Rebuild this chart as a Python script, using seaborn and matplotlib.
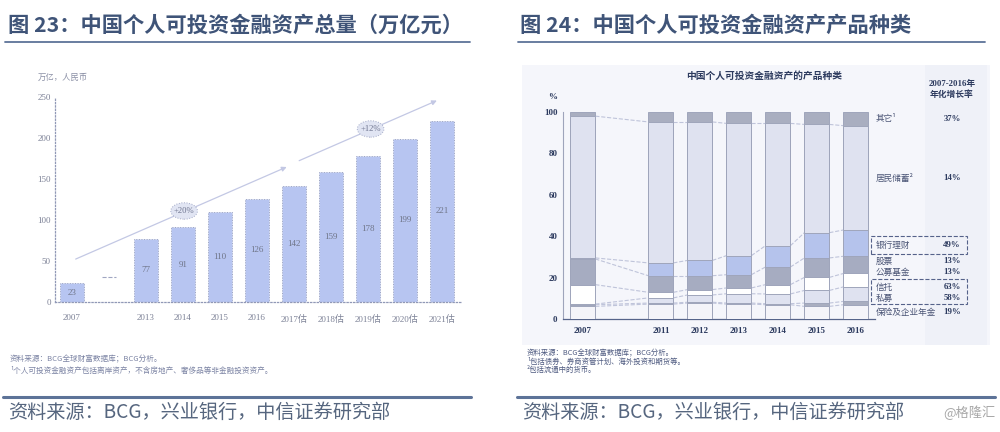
import numpy as np
import pandas as pd
import matplotlib
matplotlib.use("Agg")
import matplotlib.pyplot as plt
from matplotlib.patches import Ellipse, Rectangle
from matplotlib.lines import Line2D
import seaborn as sns

# ---------------- data: 图23 ----------------
slot_order_23 = ["2007", " ", "2013", "2014", "2015", "2016", "2017估", "2018估", "2019估", "2020估", "2021估"]
bar_years = ["2007", "2013", "2014", "2015", "2016", "2017估", "2018估", "2019估", "2020估", "2021估"]
bar_values = [23, 77, 91, 110, 126, 142, 159, 178, 199, 221]
growth_labels = ["+20%", "+12%"]

# ---------------- data: 图24 ----------------
slot_order_24 = ["2007", " ", "2011", "2012", "2013", "2014", "2015", "2016"]
years_mix = ["2007", "2011", "2012", "2013", "2014", "2015", "2016"]
insurance = [6.1, 7.2, 7.7, 7.2, 6.9, 6.1, 6.9]
private_fund = [0.8, 0.5, 0.4, 0.5, 0.5, 1.6, 1.6]
trust = [0.3, 2.5, 3.5, 4.5, 4.7, 6.1, 7.0]
mutual_fund = [9.4, 2.7, 2.6, 2.8, 4.5, 6.3, 6.5]
stocks = [12.4, 8.0, 6.7, 6.4, 8.5, 9.4, 8.3]
wealth_mgmt = [0.5, 6.2, 7.4, 9.2, 10.3, 12.2, 12.7]
deposits = [68.5, 68.1, 66.9, 63.9, 59.1, 52.3, 50.4]
others = [2.0, 4.8, 4.8, 5.5, 5.5, 6.0, 6.6]
segment_names = ["保险及企业年金", "私募", "信托", "公募基金", "股票", "银行理财", "居民储蓄²", "其它¹"]
growth_rates = ["19%", "58%", "63%", "13%", "13%", "49%", "14%", "37%"]

# ---------------- style ----------------
sns.set_theme(style="white")
plt.rcParams["font.family"] = ["Noto Sans CJK SC", "DejaVu Sans"]
SERIF = ["Liberation Serif", "Noto Sans CJK SC"]

TITLE_C = "#3f5478"
LINE_C = "#5d7398"
FOOT_C = "#56667f"
NAVY = "#2d3b5f"

fig = plt.figure(figsize=(10, 4.32), dpi=100)
fig.patch.set_facecolor("white")


def fx(p):
    return p / 1000.0


def fy(p):
    return 1 - p / 432.0


# ---------- headers / footers ----------
fig.text(fx(8), fy(25), "图 23：中国个人可投资金融资产总量（万亿元）", fontsize=15.3,
         color=TITLE_C, va="center", ha="left", fontweight="bold")
fig.text(fx(520), fy(25), "图 24：中国个人可投资金融资产产品种类", fontsize=15.3,
         color=TITLE_C, va="center", ha="left", fontweight="bold")
for x0, x1 in [(5, 470), (518, 985)]:
    fig.add_artist(Line2D([fx(x0), fx(x1)], [fy(42), fy(42)], color=LINE_C, lw=1.3,
                          transform=fig.transFigure))
for x0, x1 in [(3, 471), (517, 995)]:
    fig.add_artist(Line2D([fx(x0), fx(x1)], [fy(397), fy(397)], color=LINE_C, lw=2.2,
                          transform=fig.transFigure))
fig.text(fx(8), fy(412), "资料来源：BCG，兴业银行，中信证券研究部", fontsize=13.8,
         color=FOOT_C, va="center", ha="left")
fig.text(fx(522), fy(412), "资料来源：BCG，兴业银行，中信证券研究部", fontsize=13.8,
         color=FOOT_C, va="center", ha="left")
fig.text(fx(995), fy(413), "@格隆汇", fontsize=9.5, color="#a8a8a8", va="center", ha="right")

# =============== 图23: total assets ===============
ax1 = fig.add_axes([fx(55), fy(302), fx(407), fy(97) - fy(302)])
ax1.set_facecolor("none")
df23 = pd.DataFrame({"year": bar_years, "value": bar_values})
sns.barplot(data=df23, x="year", y="value", order=slot_order_23, color="#b7c5f1",
            saturation=1, width=0.65, edgecolor="#9da4c0", linewidth=0.7, ax=ax1, zorder=2)
for p in ax1.patches:
    p.set_linestyle(":")
ax1.bar_label(ax1.containers[0], labels=[str(v) for v in bar_values], label_type="center",
              fontsize=6.5, color="#6f7588", family=SERIF)
ax1.set_xlim(-0.46, 10.54)
ax1.set_ylim(0, 250)
ax1.set_yticks([0, 50, 100, 150, 200, 250])
ax1.set_xticks(range(len(slot_order_23)))
ax1.set_xticklabels([s.strip() for s in slot_order_23])
ax1.set_xlabel("")
ax1.set_ylabel("")
for lab in ax1.get_xticklabels() + ax1.get_yticklabels():
    lab.set_fontfamily(SERIF)
    lab.set_fontsize(6.5)
    lab.set_color("#7c8196")
ax1.tick_params(axis="y", length=2, width=0.6, color="#9da4c0", pad=1)
ax1.tick_params(axis="x", length=0, pad=9)
for s in ["top", "right"]:
    ax1.spines[s].set_visible(False)
for s in ["left", "bottom"]:
    ax1.spines[s].set_linestyle(":")
    ax1.spines[s].set_color("#9098b6")
    ax1.spines[s].set_linewidth(0.9)

# axis break marker in the empty slot
ax1.plot([0.8, 1.2], [30, 30], color="#a0a6c2", lw=0.8, ls="--", zorder=3)
# trend arrows
arrow_kw = dict(arrowstyle="-|>", color="#c3c8e4", lw=0.9, mutation_scale=7)
ax1.annotate("", xy=(5.87, 166), xytext=(0.03, 51), arrowprops=arrow_kw, zorder=1)
ax1.annotate("", xy=(9.93, 247), xytext=(6.07, 171), arrowprops=arrow_kw, zorder=1)
for (cx, cy), lab in zip([(3.03, 111), (8.07, 211)], growth_labels):
    ax1.add_patch(Ellipse((cx, cy), width=0.72, height=20, facecolor="#e1e5f3",
                          edgecolor="#a4abc8", lw=0.7, ls=":", zorder=4))
    ax1.text(cx, cy, lab, ha="center", va="center", fontsize=6.2, color="#6f7590",
             family=SERIF, zorder=5)

fig.text(fx(38), fy(77), "万亿，人民币", fontsize=6, color="#8a8fa5", va="center", ha="left")
fig.text(fx(10), fy(359), "资料来源：BCG全球财富数据库；BCG分析。", fontsize=5.5,
         color="#7c84a4", va="center", ha="left")
fig.text(fx(10), fy(371), "¹个人可投资金融资产包括离岸资产，不含房地产、奢侈品等非金融投资资产。",
         fontsize=5.5, color="#7c84a4", va="center", ha="left")

# =============== 图24: product mix ===============
fig.add_artist(Rectangle((fx(522), fy(345)), fx(468), fy(65) - fy(345),
                         transform=fig.transFigure, facecolor="#f5f6fb", edgecolor="none",
                         zorder=0))
fig.add_artist(Rectangle((fx(925), fy(345)), fx(62), fy(65) - fy(345),
                         transform=fig.transFigure, facecolor="#eff1f8", edgecolor="none",
                         zorder=0))

ax2 = fig.add_axes([fx(563), fy(319), fx(312), fy(112) - fy(319)])
ax2.set_facecolor("none")
series = np.array([insurance, private_fund, trust, mutual_fund, stocks, wealth_mgmt,
                   deposits, others])
cum = np.cumsum(series, axis=0)
colors = ["#f4f4f9", "#a9aec0", "#dfe2f0", "#ffffff", "#a6acc1", "#b5c3ec", "#dfe2f0", "#a9aec0"]
bw = 0.64
for k in range(len(series) - 1, -1, -1):
    sns.barplot(x=years_mix, y=cum[k], order=slot_order_24, color=colors[k], saturation=1,
                width=bw, edgecolor="#9fa5bb", linewidth=0.7, ax=ax2, zorder=3)

pos = [slot_order_24.index(y) for y in years_mix]
for k in range(len(series) - 1):
    for i in range(len(pos) - 1):
        ax2.plot([pos[i] + bw / 2, pos[i + 1] - bw / 2], [cum[k][i], cum[k][i + 1]],
                 ls="--", color="#bfc4da", lw=0.8, zorder=2)

ax2.set_xlim(-0.51, 7.49)
ax2.set_ylim(0, 100)
ax2.set_yticks([0, 20, 40, 60, 80, 100])
ax2.set_xticks(range(len(slot_order_24)))
ax2.set_xticklabels([s.strip() for s in slot_order_24])
ax2.set_xlabel("")
ax2.set_ylabel("")
for lab in ax2.get_xticklabels() + ax2.get_yticklabels():
    lab.set_fontfamily(SERIF)
    lab.set_fontsize(6.5)
    lab.set_fontweight("bold")
    lab.set_color(NAVY)
ax2.tick_params(axis="y", length=2, width=0.6, color="#8d94ad", pad=2)
ax2.tick_params(axis="x", length=0, pad=6)
for s in ["top", "right"]:
    ax2.spines[s].set_visible(False)
ax2.spines["left"].set_color("#9ea4bb")
ax2.spines["left"].set_linewidth(0.8)
ax2.spines["bottom"].set_color("#56648a")
ax2.spines["bottom"].set_linewidth(0.9)

fig.text(fx(764), fy(76), "中国个人可投资金融资产的产品种类", fontsize=7, fontweight="bold",
         color=NAVY, va="center", ha="center")
fig.text(fx(548), fy(97), "%", fontsize=6.5, color=NAVY, va="center", ha="left", family=SERIF,
         fontweight="bold")
fig.text(fx(952), fy(84), "2007-2016年", fontsize=6.3, fontweight="bold", color=NAVY,
         va="center", ha="center", family=SERIF)
fig.text(fx(952), fy(95), "年化增长率", fontsize=6.3, fontweight="bold", color=NAVY,
         va="center", ha="center")

label_y = {"其它¹": 119, "居民储蓄²": 178, "银行理财": 245, "股票": 261, "公募基金": 272,
           "信托": 287, "私募": 298, "保险及企业年金": 312}
for name, rate in zip(segment_names, growth_rates):
    yy = label_y[name]
    fig.text(fx(876), fy(yy), name, fontsize=6.2, color="#4a5475", va="center", ha="left")
    fig.text(fx(952), fy(yy), rate, fontsize=6.3, fontweight="bold", color=NAVY,
             va="center", ha="center", family=SERIF)
for (y0, y1) in [(236, 254), (279, 304)]:
    fig.add_artist(Rectangle((fx(871), fy(y1)), fx(96), fy(y0) - fy(y1),
                             transform=fig.transFigure, facecolor="none", edgecolor="#55628a",
                             lw=0.8, ls="--"))

fig.text(fx(527), fy(353), "资料来源：BCG全球财富数据库；BCG分析。", fontsize=5.3,
         color="#4e5a80", va="center", ha="left")
fig.text(fx(527), fy(362), "¹包括债券、券商资管计划、海外投资和期货等。", fontsize=5.3,
         color="#4e5a80", va="center", ha="left")
fig.text(fx(527), fy(370), "²包括流通中的货币。", fontsize=5.3, color="#4e5a80",
         va="center", ha="left")

fig.savefig("out.png", dpi=100)
